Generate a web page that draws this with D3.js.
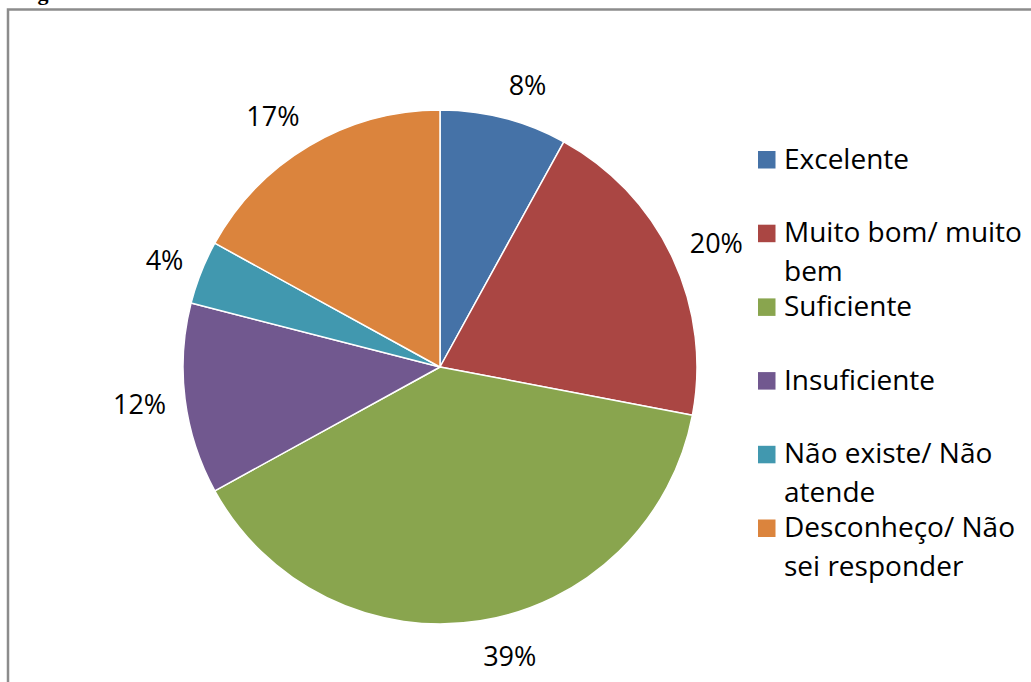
<!DOCTYPE html>
<html><head><meta charset="utf-8">
<script src="https://cdn.jsdelivr.net/npm/d3@7"></script>
<style>body{margin:0;background:#fff;overflow:hidden}svg{display:block}</style>
</head><body>
<svg id="c" width="1031" height="682"></svg>
<script>
const categories = ["Excelente","Muito bom/ muito bem","Suficiente","Insuficiente","Não existe/ Não atende","Desconheço/ Não sei responder"];
const legendLines = [["Excelente"],["Muito bom/ muito","bem"],["Suficiente"],["Insuficiente"],["Não existe/ Não","atende"],["Desconheço/ Não","sei responder"]];
const values = [8,20,39,12,4,17];
const labels = ["8%","20%","39%","12%","4%","17%"];
const colors = ["#4572A7","#AA4643","#89A54E","#71588F","#4198AF","#DB843D"];

const svg = d3.select("#c");
const FONT = "'Open Sans', Lato, sans-serif";

// cut-off title (only its lower edge shows in the source picture)
svg.append("text").attr("x",10).attr("y",0)
  .attr("font-family","'Liberation Serif', serif").attr("font-weight","bold").attr("font-size",22)
  .text("de gestão da");

// frame
svg.append("rect").attr("x",8).attr("y",9.5).attr("width",1100).attr("height",800)
  .attr("fill","#fff").attr("stroke","#8c8c8c").attr("stroke-width",2.5);

const cx = 440, cy = 367, r = 257;
const pie = d3.pie().sort(null).value(d=>d)(values);
const arc = d3.arc().innerRadius(0).outerRadius(r);
const g = svg.append("g").attr("transform",`translate(${cx},${cy})`);
g.selectAll("path").data(pie).join("path")
  .attr("d",arc).attr("fill",(d,i)=>colors[i])
  .attr("stroke","#fff").attr("stroke-width",1.5).attr("stroke-linejoin","round");

// outside-end labels: box placed next to the point at mid-angle
const lr = r + 19;
const lbls = g.selectAll("text.lbl").data(pie).join("text").attr("class","lbl")
  .attr("text-anchor","middle").attr("dominant-baseline","central")
  .attr("font-family",FONT).attr("font-size",27).attr("fill","#000")
  .text((d,i)=>labels[i]);
lbls.each(function(d){
  const bb = this.getBBox();
  const a = (d.startAngle+d.endAngle)/2;
  const s = Math.sin(a), c = Math.cos(a);
  const px = lr*s, py = -lr*c;
  const x = px + Math.sign(s)*bb.width/2;
  const y = py - c*bb.height/2*0.85;
  d3.select(this).attr("x",x).attr("y",y);
});

// legend
const lx = 758, ly0 = 168.5, step = 73.7, lh = 38.5;
const lg = svg.append("g");
categories.forEach((c,i)=>{
  const y = ly0 + i*step;
  lg.append("rect").attr("x",lx).attr("y",y-17.5).attr("width",17.5).attr("height",17.5).attr("fill",colors[i]);
  const t = lg.append("text").attr("x",lx+26).attr("y",y)
    .attr("font-family",FONT).attr("font-size",28).attr("fill","#000");
  legendLines[i].forEach((ln,j)=>{
    t.append("tspan").attr("x",lx+26).attr("y",y+j*lh).text(ln);
  });
});
</script>
</body></html>
